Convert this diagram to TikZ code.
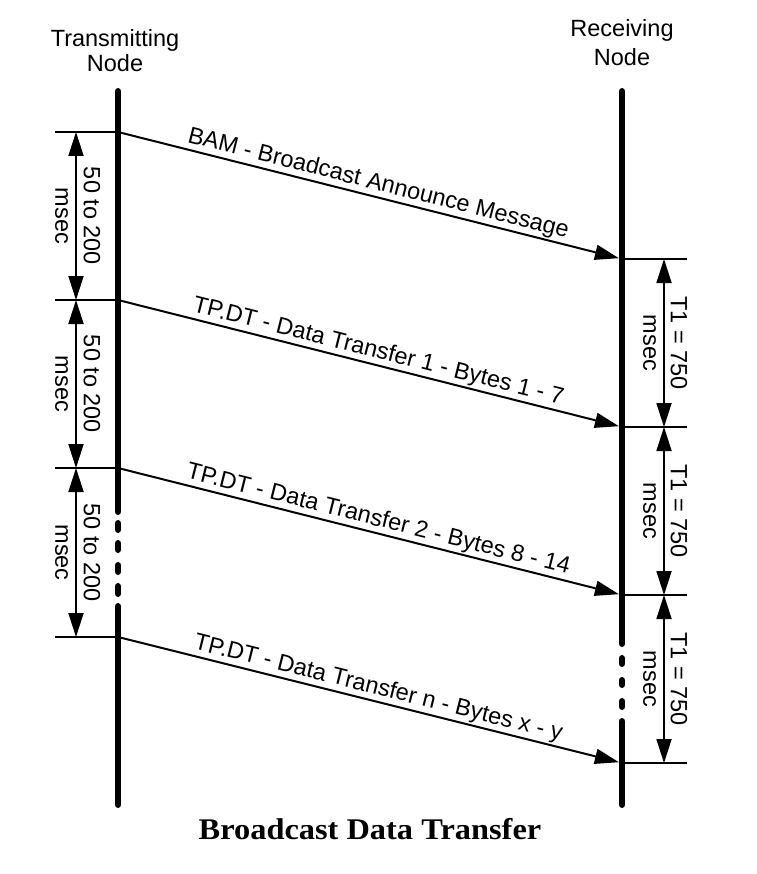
\documentclass[tikz,border=0pt]{standalone}
\usepackage{fontspec}
\setmainfont{Liberation Sans}
\newfontfamily\titlefont{Liberation Serif}
\usetikzlibrary{arrows.meta}
\begin{document}
\begin{tikzpicture}[x=1pt,y=1pt,
  lifeline/.style={line width=6.5pt, line cap=round},
  msg/.style={line width=2pt, -{Triangle[length=24pt,width=15pt]}, shorten >=3.2pt},
  tickline/.style={line width=1.8pt},
  dimarrow/.style={line width=1.8pt, {Triangle[length=24pt,width=15pt]}-{Triangle[length=24pt,width=15pt]}},
  lbl/.style={font=\fontsize{23.5}{26}\selectfont},
  msglbl/.style={lbl, sloped, anchor=south, inner sep=1pt, text depth=5pt, pos=0.51},
  dimlbl/.style={lbl, rotate=-90, inner sep=0pt},
  header/.style={lbl, anchor=base, inner sep=0pt}]
\useasboundingbox (0,0) rectangle (756,-874);

% headers
\node[header] (htx1) at (115,-47) {Transmitting};
\node[header] (htx2) at (115,-72) {Node};
\node[header] (hrx1) at (622,-37) {Receiving};
\node[header] (hrx2) at (622,-66) {Node};

% lifeline coordinates
\coordinate (Ltop) at (118,-91.25);
\coordinate (Lbot) at (118,-804.75);
\coordinate (Rtop) at (622,-91.25);
\coordinate (Rbot) at (622,-804.75);

% left lifeline with dotted break
\draw[lifeline] (Ltop) -- (118,-511.75);
\draw[lifeline] (118,-523.25) -- (118,-529.75);
\draw[lifeline] (118,-543.25) -- (118,-549.75);
\draw[lifeline] (118,-565.25) -- (118,-571.75);
\draw[lifeline] (118,-586.25) -- (118,-593.75);
\draw[lifeline] (118,-606.25) -- (Lbot);

% right lifeline with dotted break
\draw[lifeline] (Rtop) -- (622,-643.75);
\draw[lifeline] (622,-658.25) -- (622,-663.75);
\draw[lifeline] (622,-680.25) -- (622,-684.75);
\draw[lifeline] (622,-701.25) -- (622,-706.75);
\draw[lifeline] (622,-721.25) -- (Rbot);

% event coordinates
\foreach \i/\ly/\ry in {1/132/259, 2/300/427, 3/468/595, 4/637/763}{
  \coordinate (L\i) at (118,-\ly);
  \coordinate (LT\i) at (55,-\ly);
  \coordinate (LD\i) at (76,-\ly);
  \coordinate (R\i) at (622,-\ry);
  \coordinate (RT\i) at (687,-\ry);
  \coordinate (RD\i) at (664,-\ry);
  \draw[tickline] (LT\i) -- (L\i);
  \draw[tickline] (R\i) -- (RT\i);
}

% messages
\draw[msg] (L1) -- node[msglbl] (m1) {BAM - Broadcast Announce Message} (R1);
\draw[msg] (L2) -- node[msglbl] (m2) {TP.DT - Data Transfer 1 - Bytes 1 - 7} (R2);
\draw[msg] (L3) -- node[msglbl] (m3) {TP.DT - Data Transfer 2 - Bytes 8 - 14} (R3);
\draw[msg] (L4) -- node[msglbl] (m4) {TP.DT - Data Transfer n - Bytes x - y} (R4);

% left dimension arrows
\foreach \a/\b/\y in {1/2/216, 2/3/384, 3/4/552.5}{
  \draw[dimarrow] (LD\a) -- (LD\b);
  \node[dimlbl] (lda\a) at (92,-\y) {50 to 200};
  \node[dimlbl] (ldb\a) at (61.5,-\y) {msec};
}

% right dimension arrows
\foreach \a/\b/\y in {1/2/343, 2/3/511, 3/4/679}{
  \draw[dimarrow] (RD\a) -- (RD\b);
  \node[dimlbl] (rda\a) at (679,-\y) {T1 = 750};
  \node[dimlbl] (rdb\a) at (649.5,-\y) {msec};
}

% title
\node[anchor=base, inner sep=0pt, xscale=1.08, font=\titlefont\bfseries\fontsize{30}{32}\selectfont] (title) at (370,-839) {Broadcast Data Transfer};
\end{tikzpicture}
\end{document}
